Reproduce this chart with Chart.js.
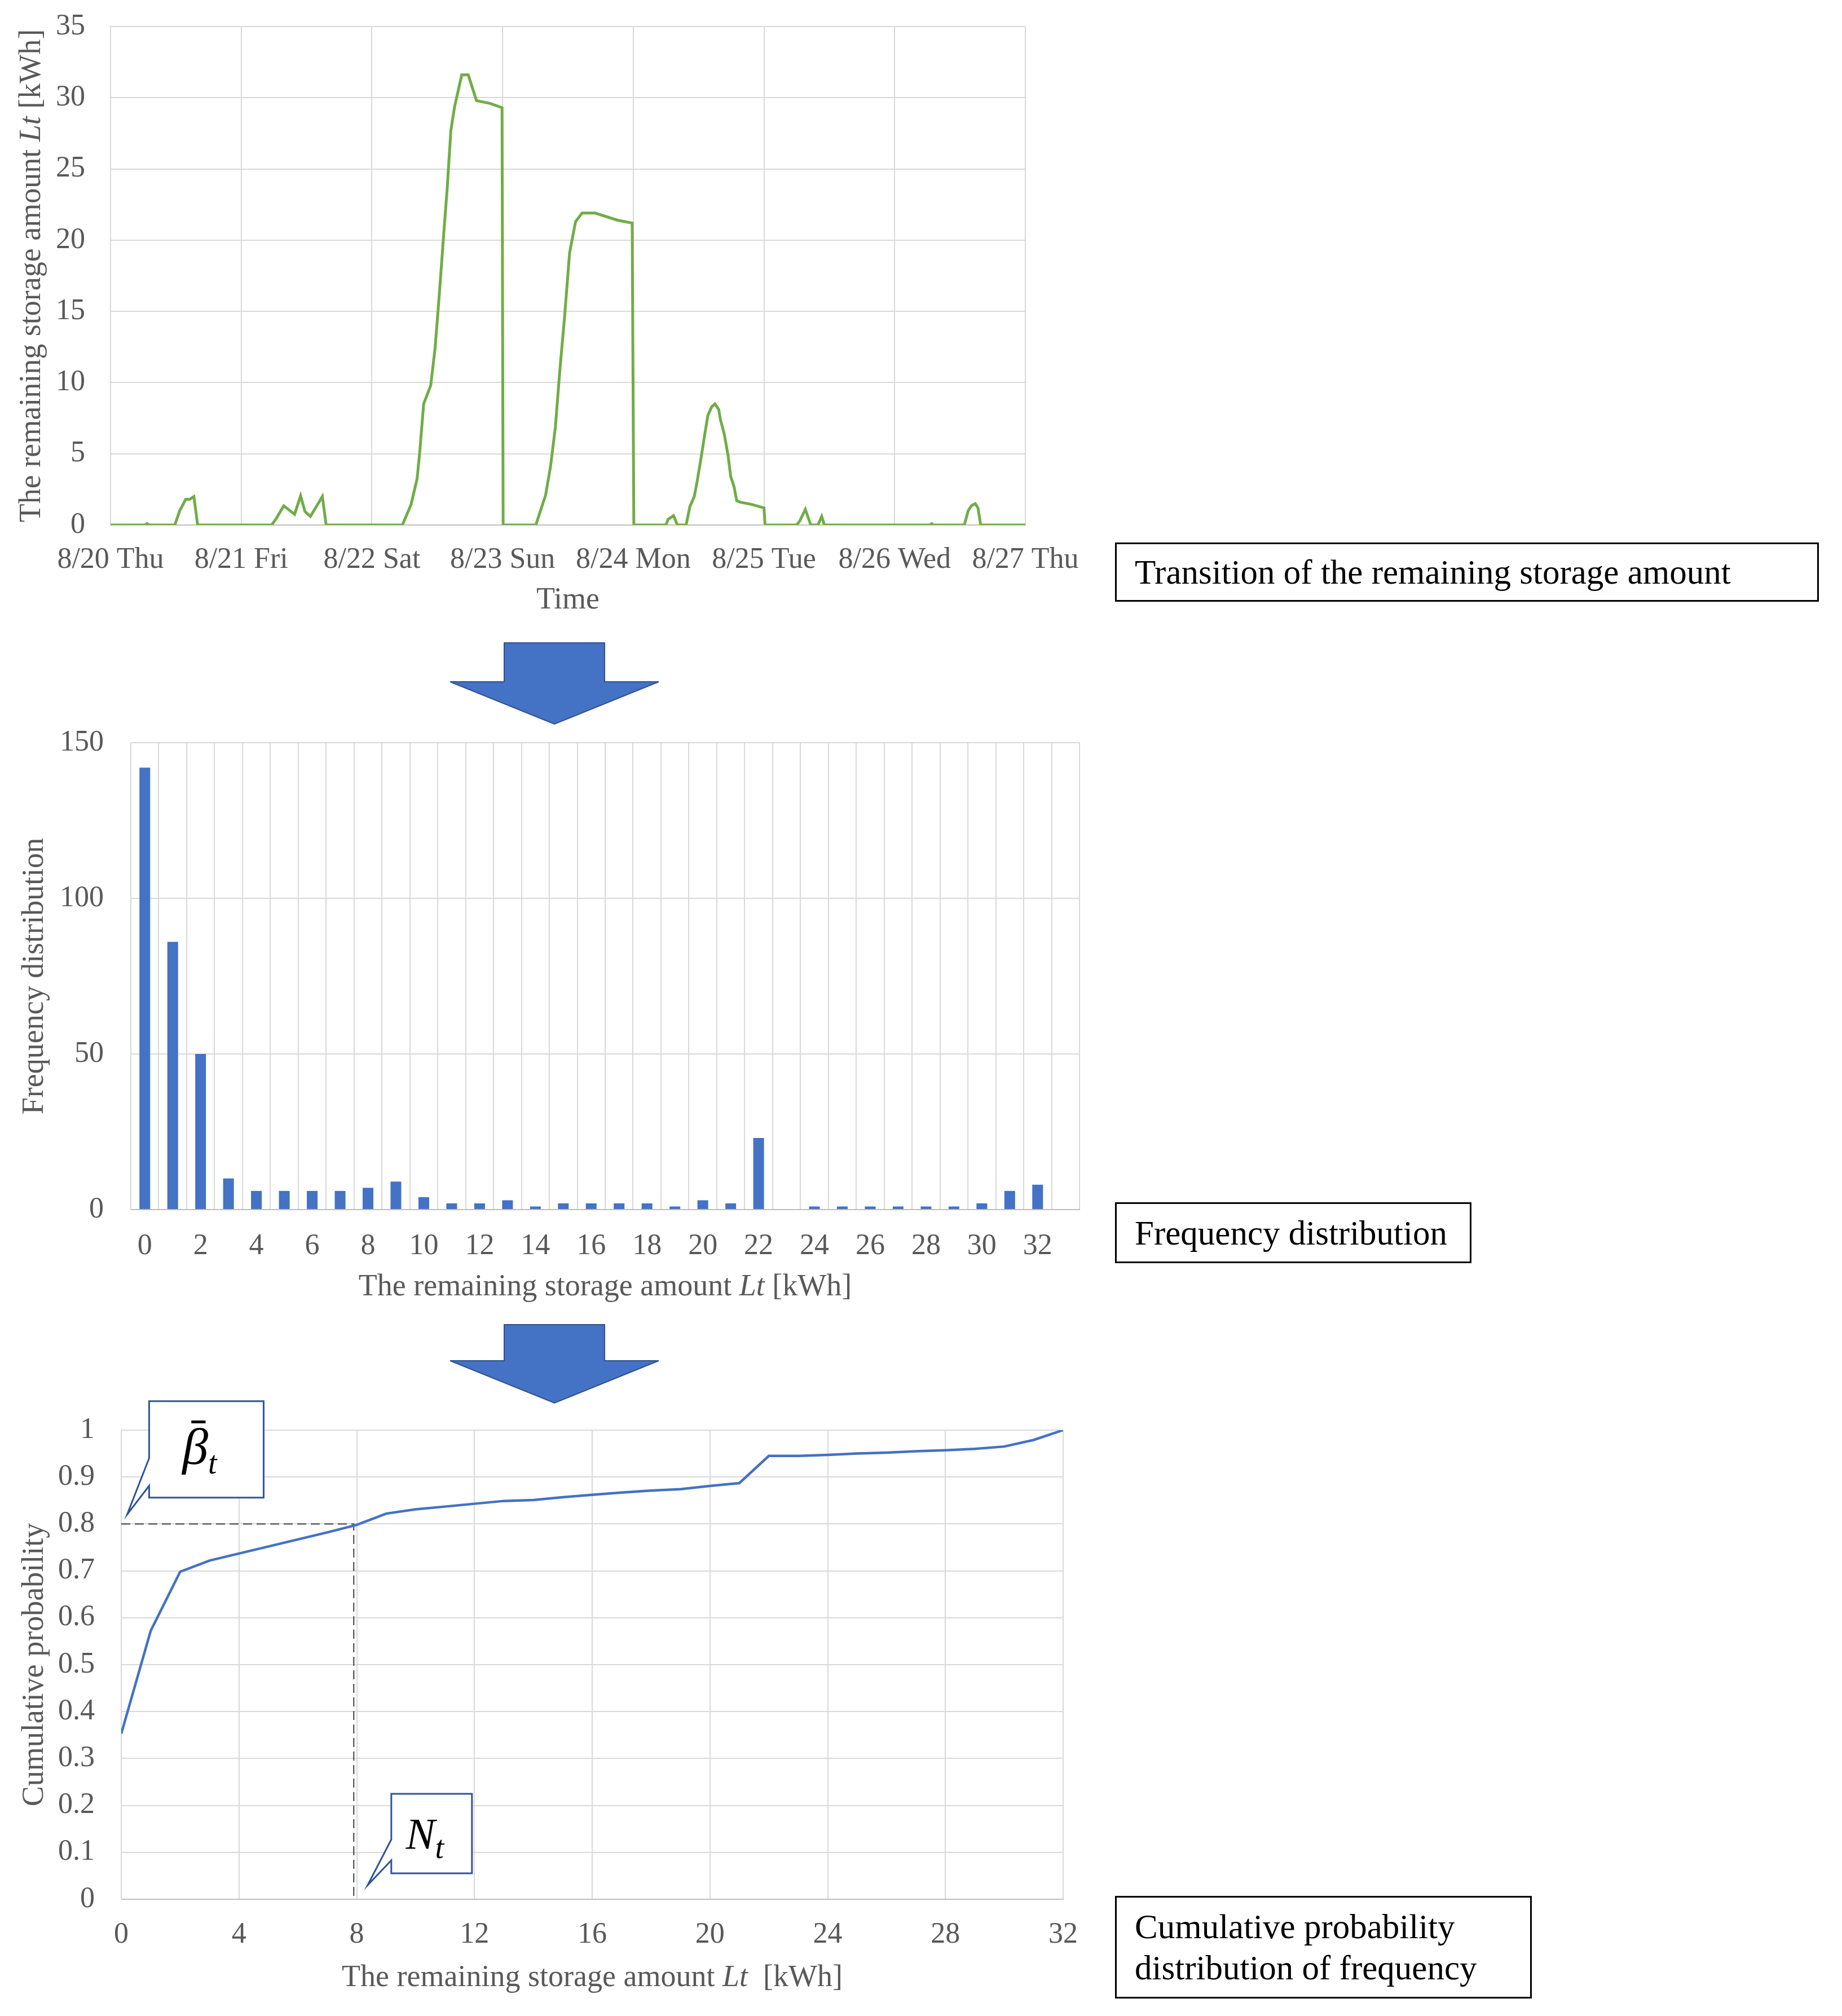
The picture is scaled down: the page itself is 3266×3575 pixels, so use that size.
<!DOCTYPE html>
<html>
<head>
<meta charset="utf-8">
<script src="https://cdn.jsdelivr.net/npm/chart.js@4.4.1/dist/chart.umd.min.js"></script>
<style>
  html, body { margin: 0; padding: 0; background: #fff; }
  #page { position: relative; width: 3266px; height: 3575px; background: #fff; overflow: hidden; }
  #page canvas { position: absolute; left: 0; }
  #arrows { position: absolute; left: 0; top: 0; }
  .label-box {
    position: absolute; box-sizing: border-box; border: 3px solid #000; background: #fff;
    font-family: 'Liberation Serif', serif; font-size: 61px; color: #000;
    padding-left: 32px; display: flex; flex-direction: column; justify-content: center;
    line-height: 73px; white-space: nowrap;
  }
</style>
</head>
<body>
<div id="page">
  <canvas id="storageChart" width="1960" height="1110" style="top:0px"></canvas>
  <canvas id="freqChart" width="2000" height="1200" style="top:1200px"></canvas>
  <canvas id="cumChart" width="2000" height="1155" style="top:2420px"></canvas>
  <svg id="arrows" width="3266" height="3575">
    <polygon points="894,1140 1072,1140 1072,1209 1168,1209 983,1284 798,1209 894,1209" fill="#4472C4" stroke="#2F528F" stroke-width="2"/>
    <polygon points="894,2349 1072,2349 1072,2413 1168,2413 983,2488 798,2413 894,2413" fill="#4472C4" stroke="#2F528F" stroke-width="2"/>
  </svg>
  <div class="label-box" style="left:1977px; top:962px; width:1248px; height:105px;">Transition of the remaining storage amount</div>
  <div class="label-box" style="left:1977px; top:2132px; width:632px; height:108px;">Frequency distribution</div>
  <div class="label-box" style="left:1977px; top:3362px; width:739px; height:182px;"><span>Cumulative probability</span><span>distribution of frequency</span></div>
</div>
<script>
// --- data: remaining storage over the week (hours since 8/20 0:00) ---
const dayLabels = ['8/20 Thu', '8/21 Fri', '8/22 Sat', '8/23 Sun', '8/24 Mon', '8/25 Tue', '8/26 Wed', '8/27 Thu'];
const timeHours = [0, 6.4, 6.7, 7.0, 11.8, 12.7, 13.8, 14.5, 15.3, 16.0,
    29.6, 30.5, 31.8, 33.8, 34.9, 35.7, 36.7, 37.8, 38.9, 39.6,
    53.6, 55.2, 56.3, 56.8, 57.5, 58.8, 59.6, 60.4, 61.2, 61.8, 62.5, 63.2, 64.5, 65.7, 67.2, 69.7, 71.9, 72.1,
    78.1, 79.9, 80.8, 81.7, 82.5, 83.4, 84.3, 85.4, 86.6, 89.0, 93.1, 95.8, 96.1,
    102.0, 102.4, 103.4, 104.1, 105.7, 106.4, 107.2, 107.7, 108.4, 109.1, 109.7, 110.4, 111.0, 111.7, 112.0,
    112.7, 113.4, 113.9, 114.5, 115.0, 115.7, 117.7, 120.0, 120.2,
    126.0, 126.6, 127.6, 128.6, 129.9, 130.6, 131.1,
    150.5, 150.8, 151.1, 156.8, 157.5, 158.1, 158.8, 159.3, 159.8, 168];
const storageKWh = [0, 0, 0.1, 0, 0, 1.0, 1.8, 1.8, 2.0, 0,
    0, 0.5, 1.35, 0.75, 2.05, 0.95, 0.6, 1.3, 2.0, 0,
    0, 1.45, 3.25, 5.2, 8.5, 9.8, 12.4, 16.3, 20.5, 23.5, 27.7, 29.4, 31.6, 31.6, 29.8, 29.6, 29.3, 0,
    0, 2.1, 4.1, 6.9, 10.8, 14.7, 19.1, 21.3, 21.9, 21.9, 21.4, 21.2, 0,
    0, 0.4, 0.65, 0, 0, 1.3, 2.0, 3.0, 4.6, 6.3, 7.7, 8.3, 8.5, 8.1, 7.4,
    6.4, 4.9, 3.4, 2.7, 1.7, 1.6, 1.45, 1.2, 0,
    0, 0.3, 1.1, 0, 0, 0.6, 0,
    0, 0.1, 0, 0, 1.0, 1.35, 1.5, 1.2, 0, 0];

// --- data: frequency distribution (1 kWh bins) ---
const freqBins = ['0', '1', '2', '3', '4', '5', '6', '7', '8', '9', '10', '11', '12', '13', '14', '15', '16',
    '17', '18', '19', '20', '21', '22', '23', '24', '25', '26', '27', '28', '29', '30', '31', '32', '33'];
const freqCounts = [142, 86, 50, 10, 6, 6, 6, 6, 7, 9, 4, 2, 2, 3, 1, 2, 2,
    2, 2, 1, 3, 2, 23, 0, 1, 1, 1, 1, 1, 1, 2, 6, 8, 0];

// --- data: cumulative probability ---
const cumKWh = [0, 1, 2, 3, 4, 5, 6, 7, 8, 9, 10, 11, 12, 13, 14, 15, 16,
    17, 18, 19, 20, 21, 22, 23, 24, 25, 26, 27, 28, 29, 30, 31, 32];
const cumProb = [0.353, 0.572, 0.698, 0.722, 0.737, 0.752, 0.767, 0.782, 0.798, 0.822, 0.831, 0.837, 0.843,
    0.849, 0.851, 0.857, 0.862, 0.867, 0.871, 0.874, 0.881, 0.887, 0.945, 0.945, 0.947, 0.950, 0.952,
    0.955, 0.957, 0.960, 0.965, 0.979, 1.0];
const probTickLabels = ['0', '0.1', '0.2', '0.3', '0.4', '0.5', '0.6', '0.7', '0.8', '0.9', '1'];
const guideKWh = 7.9;   // N_t
const guideProb = 0.80; // beta bar

const GREY = '#595959';
const GRID = '#D9D9D9';
const SERIF = 'Liberation Serif';
const tickFont = { family: SERIF, size: 52 };

// fixed y-axis width; keep the label overhang from pushing the plot down
function fixYAxis(width) {
    return s => { s.width = width; s.paddingTop = 30; s.paddingBottom = 30; };
}

// axis titles with an italic part (Lt), drawn next to the chart area
const axisTitlePlugin = {
    id: 'axisTitles',
    afterDraw(chart, args, opts) {
        const { ctx, chartArea } = chart;
        (opts.items || []).forEach(item => {
            const size = item.size || 54;
            const fonts = item.parts.map(p => `${p.italic ? 'italic ' : ''}${size}px "${SERIF}"`);
            ctx.save();
            const cx = item.axis === 'x' ? (chartArea.left + chartArea.right) / 2 : chartArea.left - item.offset;
            const cy = item.axis === 'x' ? chartArea.bottom + item.offset : (chartArea.top + chartArea.bottom) / 2;
            ctx.translate(cx, cy);
            if (item.axis === 'y') ctx.rotate(-Math.PI / 2);
            ctx.fillStyle = GREY;
            ctx.textBaseline = 'middle';
            ctx.textAlign = 'left';
            const widths = item.parts.map((p, i) => { ctx.font = fonts[i]; return ctx.measureText(p.text).width; });
            let x = -widths.reduce((a, b) => a + b, 0) / 2;
            item.parts.forEach((p, i) => {
                ctx.font = fonts[i];
                ctx.fillText(p.text, x, 0);
                x += widths[i];
            });
            ctx.restore();
        });
    }
};

// speech-bubble callouts pointing at a data position
const calloutPlugin = {
    id: 'callouts',
    afterDatasetsDraw(chart, args, opts) {
        const { ctx, scales } = chart;
        (opts.items || []).forEach(c => {
            const tx = scales.x.getPixelForValue(c.x);
            const ty = scales.y.getPixelForValue(c.y);
            const left = tx + c.dx, top = ty + c.dy;
            ctx.save();
            ctx.beginPath();
            ctx.moveTo(left, top);
            ctx.lineTo(left + c.w, top);
            ctx.lineTo(left + c.w, top + c.h);
            ctx.lineTo(left, top + c.h);
            ctx.lineTo(left, top + c.tail[1]);
            ctx.lineTo(tx, ty);
            ctx.lineTo(left, top + c.tail[0]);
            ctx.closePath();
            ctx.fillStyle = '#ffffff';
            ctx.fill();
            ctx.lineWidth = 3;
            ctx.strokeStyle = '#2F5597';
            ctx.stroke();

            const mainFont = `italic ${c.size}px "${SERIF}"`;
            const subFont = `italic 56px "${SERIF}"`;
            ctx.font = mainFont;
            const mw = ctx.measureText(c.main).width;
            ctx.font = subFont;
            const sw = ctx.measureText(c.sub).width;
            const sx = left + c.w / 2 - (mw + sw) / 2 - 12;
            const base = top + c.h / 2 + 26;
            ctx.fillStyle = '#000';
            ctx.textBaseline = 'alphabetic';
            ctx.textAlign = 'left';
            ctx.font = mainFont;
            ctx.fillText(c.main, sx, base);
            if (c.bar) {
                // macron over the main symbol
                ctx.fillRect(sx + mw * 0.35, base - c.size * 0.84, mw * 0.55, 5);
            }
            ctx.font = subFont;
            ctx.fillText(c.sub, sx + mw, base + 17);
            ctx.restore();
        });
    }
};

Chart.register(axisTitlePlugin, calloutPlugin);

function baseOptions(padding, titles) {
    return {
        responsive: false,
        animation: false,
        layout: { padding: padding },
        plugins: {
            legend: { display: false },
            tooltip: { enabled: false },
            axisTitles: { items: titles }
        }
    };
}

// --- Transition of the remaining storage amount ---
new Chart(document.getElementById('storageChart'), {
    type: 'line',
    data: {
        datasets: [{
            data: timeHours.map((h, i) => ({ x: h, y: storageKWh[i] })),
            borderColor: '#70AD47',
            borderWidth: 5,
            pointRadius: 0,
            tension: 0
        }]
    },
    options: {
        ...baseOptions({ left: 0, top: 47, right: 142, bottom: 0 }, [
            { axis: 'y', offset: 139, parts: [{ text: 'The remaining storage amount ' }, { text: 'Lt', italic: true }, { text: ' [kWh]' }] },
            { axis: 'x', offset: 134, parts: [{ text: 'Time' }] }
        ]),
        scales: {
            x: {
                type: 'linear', min: 0, max: 168,
                afterFit: s => { s.height = 179; },
                ticks: { stepSize: 24, autoSkip: false, maxRotation: 0, padding: 31, color: GREY, font: tickFont,
                         callback: v => dayLabels[Math.round(v / 24)] },
                grid: { color: GRID, lineWidth: 2, drawTicks: false },
                border: { color: '#BFBFBF', width: 2 }
            },
            y: {
                min: 0, max: 35,
                afterFit: fixYAxis(196),
                ticks: { stepSize: 5, padding: 45, color: GREY, font: tickFont },
                grid: { color: GRID, lineWidth: 2, drawTicks: false },
                border: { color: GRID, width: 2 }
            }
        }
    }
});

// --- Frequency distribution ---
new Chart(document.getElementById('freqChart'), {
    type: 'bar',
    data: {
        labels: freqBins,
        datasets: [{
            data: freqCounts,
            backgroundColor: '#4472C4',
            barPercentage: 0.385,
            categoryPercentage: 1.0
        }]
    },
    options: {
        ...baseOptions({ left: 0, top: 117, right: 86, bottom: 0 }, [
            { axis: 'y', offset: 170, parts: [{ text: 'Frequency distribution' }] },
            { axis: 'x', offset: 138, parts: [{ text: 'The remaining storage amount ' }, { text: 'Lt', italic: true }, { text: ' [kWh]' }] }
        ]),
        scales: {
            x: {
                afterFit: s => { s.height = 255; },
                ticks: { autoSkip: false, maxRotation: 0, padding: 34, color: GREY, font: tickFont,
                         callback: (v, i) => (i % 2 === 0 ? freqBins[i] : '') },
                grid: { color: GRID, lineWidth: 2, drawTicks: false, offset: true },
                border: { color: '#BFBFBF', width: 2 }
            },
            y: {
                min: 0, max: 150,
                afterFit: fixYAxis(232),
                ticks: { stepSize: 50, padding: 48, color: GREY, font: tickFont },
                grid: { color: GRID, lineWidth: 2, drawTicks: false },
                border: { color: GRID, width: 2 }
            }
        }
    }
});

// --- Cumulative probability distribution ---
new Chart(document.getElementById('cumChart'), {
    type: 'line',
    data: {
        datasets: [{
            data: cumKWh.map((k, i) => ({ x: k, y: cumProb[i] })),
            borderColor: '#4472C4',
            borderWidth: 4.5,
            pointRadius: 0,
            tension: 0
        }, {
            data: [{ x: 0, y: guideProb }, { x: guideKWh, y: guideProb }, { x: guideKWh, y: 0 }],
            borderColor: '#404040',
            borderWidth: 2,
            borderDash: [16, 8],
            pointRadius: 0,
            tension: 0
        }]
    },
    options: {
        ...baseOptions({ left: 0, top: 116, right: 115, bottom: 0 }, [
            { axis: 'y', offset: 153, parts: [{ text: 'Cumulative probability' }] },
            { axis: 'x', offset: 140, parts: [{ text: 'The remaining storage amount ' }, { text: 'Lt', italic: true }, { text: '  [kWh]' }] }
        ]),
        scales: {
            x: {
                type: 'linear', min: 0, max: 32,
                afterFit: s => { s.height = 207; },
                ticks: { stepSize: 4, autoSkip: false, maxRotation: 0, padding: 32, color: GREY, font: tickFont },
                grid: { color: GRID, lineWidth: 2, drawTicks: false },
                border: { color: '#BFBFBF', width: 2 }
            },
            y: {
                min: 0, max: 1,
                afterFit: fixYAxis(215),
                ticks: { stepSize: 0.1, padding: 47, color: GREY, font: tickFont,
                         callback: (v, i) => probTickLabels[i] },
                grid: { color: GRID, lineWidth: 2, drawTicks: false },
                border: { color: GRID, width: 2 }
            }
        }
    }
});
Chart.getChart('cumChart').options.plugins.callouts = {
    items: [
        { x: 0.2, y: 0.82, dx: 39, dy: -201, w: 203, h: 171, tail: [101, 150], main: 'β', sub: 't', bar: true, size: 92 },
        { x: 8.37, y: 0.03, dx: 42, dy: -162, w: 143, h: 141, tail: [81, 118], main: 'N', sub: 't', size: 78 }
    ]
};
Chart.getChart('cumChart').update();
</script>
</body>
</html>
